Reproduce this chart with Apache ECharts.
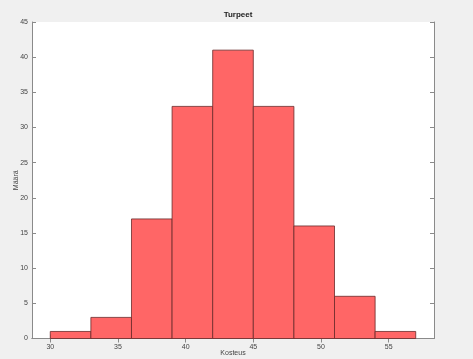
<!DOCTYPE html>
<html><head><meta charset="utf-8">
<script src="https://cdn.jsdelivr.net/npm/echarts@6/dist/echarts.min.js"></script>
<style>html,body{margin:0;padding:0;background:#f0f0f0;}#c{width:473px;height:359px;}</style>
</head><body><div id="c"></div>
<script>
const binStarts = [30, 33, 36, 39, 42, 45, 48, 51, 54];
const binWidth = 3;
const counts = [1, 3, 17, 33, 41, 33, 16, 6, 1];
const xTicks = [30, 35, 40, 45, 50, 55];
const yTicks = [0, 5, 10, 15, 20, 25, 30, 35, 40, 45];
const titleText = 'Turpeet';
const xName = 'Kosteus';
const yName = 'Määrä';

const data = binStarts.map((s, i) => [s, s + binWidth, counts[i]]);
const chart = echarts.init(document.getElementById('c'));
const axisCol = '#8a8a8a';
const lblCol = '#444';
const common = {
  axisLine: {show: true, lineStyle: {color: axisCol, width: 1}},
  splitLine: {show: false}
};
chart.setOption({
  backgroundColor: '#f0f0f0',
  animation: false,
  title: {text: titleText, left: 233, top: 6, textAlign: 'center',
    textStyle: {fontSize: 8, fontWeight: 'bold', color: '#222', fontFamily: 'Liberation Sans'}},
  grid: {left: 32, top: 22, right: 39, bottom: 20.5, show: true, backgroundColor: '#fff', borderWidth: 0,
    containLabel: false, outerBoundsMode: 'none'},
  xAxis: [
    Object.assign({type: 'value', min: 28.65, max: 58.35, position: 'bottom',
      name: xName, nameLocation: 'middle', nameGap: 11, nameMoveOverlap: false,
      nameTextStyle: {fontSize: 7, color: lblCol, fontFamily: 'Liberation Sans'},
      axisTick: {show: true, inside: true, length: 4, customValues: xTicks, lineStyle: {color: axisCol}},
      axisLabel: {customValues: xTicks, fontSize: 7, color: lblCol, margin: 5, fontFamily: 'Liberation Sans'}}, common),
    Object.assign({type: 'value', min: 28.65, max: 58.35, position: 'top',
      axisTick: {show: true, inside: true, length: 4, customValues: xTicks, lineStyle: {color: axisCol}},
      axisLabel: {show: false}}, common)
  ],
  yAxis: [
    Object.assign({type: 'value', min: 0, max: 45, interval: 5, position: 'left',
      name: yName, nameLocation: 'middle', nameGap: 12, nameRotate: 90, nameMoveOverlap: false,
      nameTextStyle: {fontSize: 7, color: lblCol, fontFamily: 'Liberation Sans'},
      axisTick: {show: true, inside: true, length: 4, lineStyle: {color: axisCol}},
      axisLabel: {fontSize: 7, color: lblCol, margin: 4, fontFamily: 'Liberation Sans'}}, common),
    Object.assign({type: 'value', min: 0, max: 45, interval: 5, position: 'right',
      axisTick: {show: true, inside: true, length: 4, lineStyle: {color: axisCol}},
      axisLabel: {show: false}}, common)
  ],
  series: [{
    type: 'custom',
    xAxisIndex: 0, yAxisIndex: 0,
    data: data,
    encode: {x: [0, 1], y: 2},
    renderItem: function (params, api) {
      const p0 = api.coord([api.value(0), api.value(2)]);
      const p1 = api.coord([api.value(1), 0]);
      return {type: 'rect',
        shape: {x: p0[0], y: p0[1], width: p1[0] - p0[0], height: p1[1] - p0[1]},
        style: {fill: '#ff6666', stroke: '#6a2a2a', lineWidth: 0.8}};
    }
  }]
});
</script></body></html>
